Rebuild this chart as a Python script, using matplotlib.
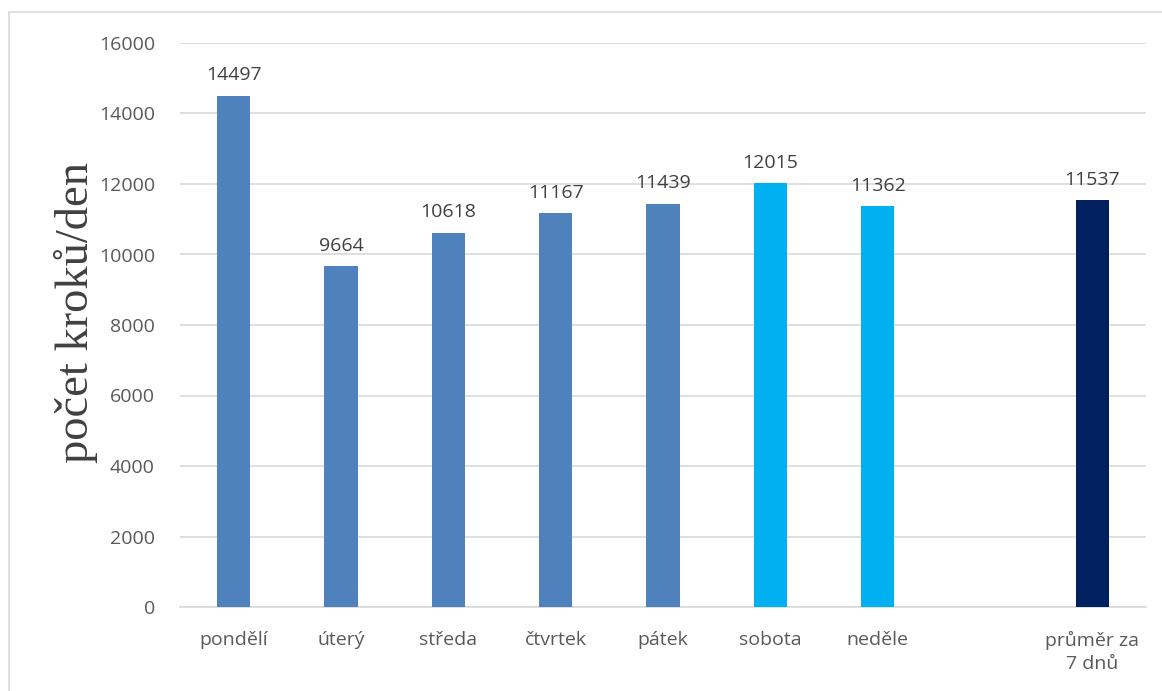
import matplotlib
matplotlib.use("Agg")
import matplotlib.pyplot as plt
from matplotlib.patches import Rectangle

categories = ["pondělí", "úterý", "středa", "čtvrtek", "pátek", "sobota", "neděle", "", "průměr za\n7 dnů"]
steps = [14497, 9664, 10618, 11167, 11439, 12015, 11362, None, 11537]
colors = ["#4F81BD", "#4F81BD", "#4F81BD", "#4F81BD", "#4F81BD",
          "#00B0F0", "#00B0F0", None, "#002060"]
y_ticks = [0, 2000, 4000, 6000, 8000, 10000, 12000, 14000, 16000]

W, H = 1162, 691
fig = plt.figure(figsize=(W / 100, H / 100), dpi=100)
fig.patch.set_facecolor("white")

# outer chart frame
fig.add_artist(Rectangle((9 / W, -0.02), 1.2, 1 - 12 / H + 0.02,
                         transform=fig.transFigure, fill=False,
                         edgecolor="#D9D9D9", linewidth=1.2))

ax = fig.add_axes([180 / W, 1 - 607 / H, (1146 - 180) / W, (607 - 43) / H])

tick_font = "Open Sans"
text_col = "#595959"
fs = 14

for i, (v, c) in enumerate(zip(steps, colors)):
    if v is None:
        continue
    ax.bar(i, v, width=0.31, color=c, zorder=3)
    ax.text(i, v + 330, str(v), ha="center", va="bottom",
            fontsize=fs, color="#404040", family=tick_font, zorder=4)

ax.set_xlim(-0.5, len(categories) - 0.5)
ax.set_ylim(0, 16000)
ax.set_yticks(y_ticks)
ax.set_yticklabels([str(t) for t in y_ticks], family=tick_font,
                   fontsize=fs, color=text_col)
ax.set_xticks(range(len(categories)))
ax.set_xticklabels(categories, family=tick_font, fontsize=fs,
                   color=text_col, linespacing=1.4)

ax.grid(axis="y", color="#D9D9D9", linewidth=1.2, zorder=0)
for s in ["top", "right", "left"]:
    ax.spines[s].set_visible(False)
ax.spines["bottom"].set_color("#D9D9D9")
ax.spines["bottom"].set_linewidth(1.2)
ax.tick_params(axis="both", length=0)
ax.tick_params(axis="y", pad=18)
ax.tick_params(axis="x", pad=17)

fig.text(76 / W, 1 - 312 / H, "počet kroků/den", family="Liberation Serif",
         fontsize=33.5, color="#404040", rotation=90, ha="center", va="center")

fig.savefig("out.png", dpi=100, facecolor="white")
